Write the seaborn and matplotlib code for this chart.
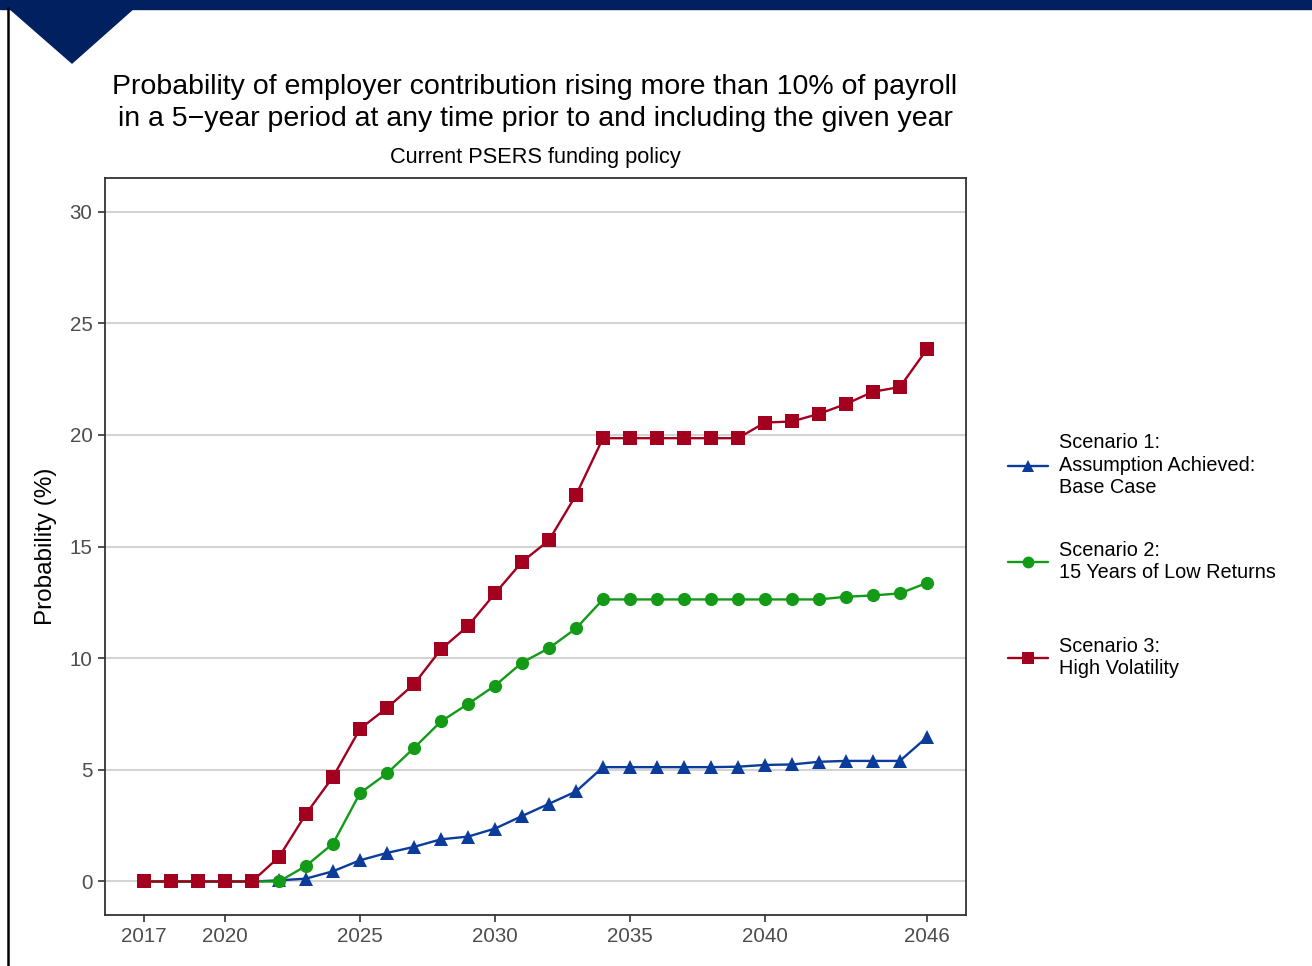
import pandas as pd
import numpy as np
import matplotlib.pyplot as plt
import seaborn as sns
from matplotlib.patches import Rectangle, Polygon
from matplotlib.lines import Line2D

# data
years = list(range(2017, 2047))
base_case = [0, 0, 0, 0, 0, 0.05, 0.13, 0.46, 0.95, 1.28, 1.55, 1.89, 2.01, 2.37, 2.93,
             3.48, 4.03, 5.12, 5.12, 5.12, 5.12, 5.12, 5.14, 5.22, 5.24, 5.36, 5.4, 5.4, 5.4, 6.46]
low_returns = [0, 0, 0, 0, 0, 0, 0.7, 1.7, 3.96, 4.84, 5.98, 7.17, 7.95, 8.77, 9.8,
               10.45, 11.33, 12.63, 12.63, 12.63, 12.63, 12.63, 12.63, 12.63, 12.63, 12.63, 12.75, 12.81, 12.9, 13.37]
high_vol = [0, 0, 0, 0, 0, 1.1, 3.03, 4.69, 6.84, 7.77, 8.84, 10.4, 11.44, 12.9, 14.31,
            15.28, 17.3, 19.85, 19.85, 19.85, 19.85, 19.85, 19.85, 20.55, 20.6, 20.94, 21.38, 21.93, 22.14, 23.83]

labels = ["Scenario 1:\nAssumption Achieved:\nBase Case",
          "Scenario 2:\n15 Years of Low Returns",
          "Scenario 3:\nHigh Volatility"]
colors = ["#0B3C9A", "#139A17", "#A3001F"]
markers = ["^", "o", "s"]
xtick_labels = [2017, 2020, 2025, 2030, 2035, 2040, 2046]

df = pd.DataFrame({
    "year": years * 3,
    "prob": base_case + low_returns + high_vol,
    "scenario": [labels[0]] * 30 + [labels[1]] * 30 + [labels[2]] * 30,
})

sns.set_theme(style="white")
plt.rcParams["font.family"] = ["Liberation Sans", "DejaVu Sans"]
plt.rcParams["text.color"] = "black"

fig = plt.figure(figsize=(13.12, 9.66), dpi=100)
ax = fig.add_axes([0.0800, 0.0528, 0.6563, 0.7629])

sns.lineplot(data=df, x="year", y="prob", hue="scenario", style="scenario",
             hue_order=labels, style_order=labels,
             palette=dict(zip(labels, colors)), markers=dict(zip(labels, markers)),
             dashes=False, linewidth=1.7, markersize=9.5, markeredgewidth=0,
             ax=ax, legend=False)

ax.set_xlim(2015.55, 2047.45)
ax.set_ylim(-1.5, 31.5)
ax.set_xticks(xtick_labels)
ax.set_yticks([0, 5, 10, 15, 20, 25, 30])
ax.yaxis.grid(True, color="#d3d3d3", linewidth=1.5)
ax.xaxis.grid(False)
ax.set_axisbelow(True)
for s in ax.spines.values():
    s.set_color("#333333")
    s.set_linewidth(1.3)
ax.tick_params(axis="both", which="major", direction="out", length=5, width=1.2,
               color="#333333", labelcolor="#4d4d4d", labelsize=14.8, pad=4,
               bottom=True, left=True)
ax.set_xlabel("")
ax.set_ylabel("Probability (%)", fontsize=17.5, color="black", labelpad=9)

# legend: one entry per block so the gaps stay even
for lab, c, m, yc in zip(labels, colors, markers, [465, 561, 657]):
    h = Line2D([], [], color=c, marker=m, linewidth=1.7, markersize=8.5, markeredgewidth=0)
    fig.legend([h], [lab], loc="center left", bbox_to_anchor=(1008 / 1312, 1 - yc / 966),
               frameon=False, fontsize=14.3, handlelength=2.0, handletextpad=0.55,
               borderpad=0, borderaxespad=0)

# titles
fig.text(535 / 1312, 1 - 103 / 966,
         "Probability of employer contribution rising more than 10% of payroll\n"
         "in a 5\u2212year period at any time prior to and including the given year",
         ha="center", va="center", fontsize=20.5, linespacing=1.3, color="black")
fig.text(535 / 1312, 1 - 157 / 966, "Current PSERS funding policy",
         ha="center", va="center", fontsize=15.7, color="black")

# slide decoration
navy = "#00205F"
fig.patches.append(Rectangle((0, 1 - 9 / 966), 1, 9 / 966, transform=fig.transFigure,
                             color=navy, zorder=0))
fig.patches.append(Polygon([(9 / 1312, 1 - 8 / 966), (134 / 1312, 1 - 8 / 966),
                            (72 / 1312, 1 - 63 / 966)], closed=True,
                           transform=fig.transFigure, color=navy, zorder=0))
fig.lines.append(Line2D([7.5 / 1312, 7.5 / 1312], [0, 1 - 8 / 966],
                        transform=fig.transFigure, color="black", linewidth=1.8))

plt.savefig("out.png", dpi=100)
